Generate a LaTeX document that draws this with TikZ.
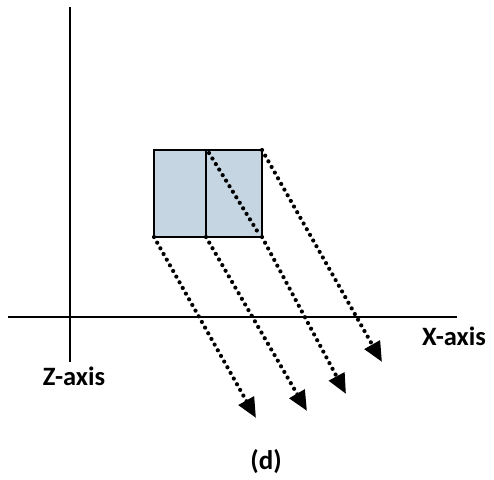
\documentclass[tikz,border=0pt]{standalone}
\usepackage{fontspec}
\setmainfont{Carlito}
\usetikzlibrary{arrows.meta}
\begin{document}
\begin{tikzpicture}[x=1pt,y=-1pt,
  axis/.style={line width=2.4pt,black},
  box/.style={draw=black,line width=2.4pt,fill=boxblue},
  proj/.style={line width=4.2pt,line cap=round,dash pattern=on 0pt off 6.5pt},
  projarrow/.style={proj,-{Triangle[length=20pt,width=17pt,line cap=butt]}},
  lab/.style={font=\bfseries\fontsize{26.5}{30}\selectfont,inner sep=0pt}]
\definecolor{boxblue}{HTML}{C5D6E2}
\useasboundingbox (0,0) rectangle (494,479);
% axes
\coordinate (zt) at (70,7);
\coordinate (zb) at (70,362);
\coordinate (xl) at (8,317);
\coordinate (xr) at (457,317);
\draw[axis] (zt) -- (zb);
\draw[axis] (xl) -- (xr);
% squares
\coordinate (bl) at (154,237);
\coordinate (bm) at (206,237);
\coordinate (br) at (262,237);
\coordinate (tl) at (154,150);
\coordinate (tm) at (206,150);
\coordinate (tr) at (262,150);
\draw[box] (tl) rectangle (bm);
\draw[box] (tm) rectangle (br);
% projections
\coordinate (a1) at (256,418);
\coordinate (a2) at (307,411);
\coordinate (a3) at (346,394);
\coordinate (a4) at (382,362);
\draw[proj] (209,153) -- (259,234);
\draw[projarrow] (bl) -- (a1);
\draw[projarrow] (bm) -- (a2);
\draw[projarrow] (br) -- (a3);
\draw[projarrow] (tr) -- (a4);
% labels
\node[lab] (xlab) at (454,336) {X-axis};
\node[lab] (zlab) at (74,376) {Z-axis};
\node[lab,font=\bfseries\fontsize{27}{30}\selectfont] (dlab) at (266,462) {(d)};
\end{tikzpicture}
\end{document}
